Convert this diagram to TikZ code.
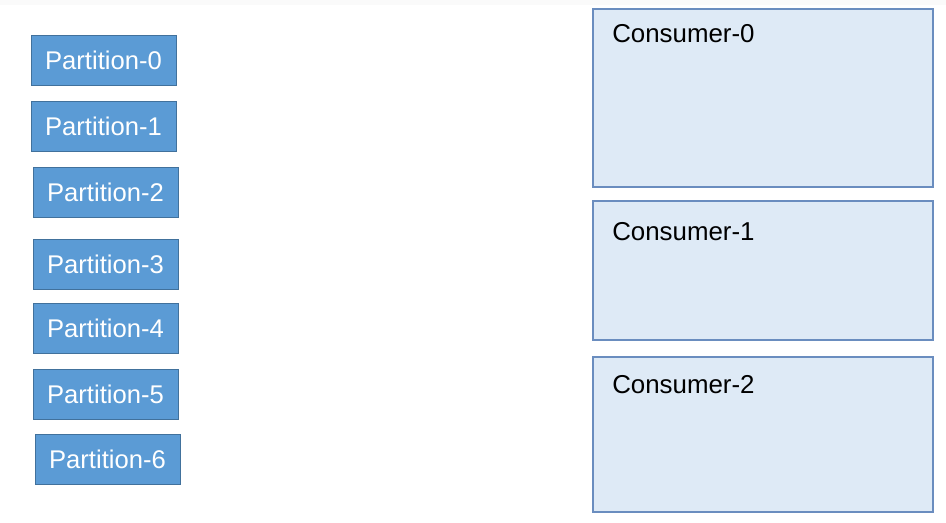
\documentclass[tikz,border=0pt]{standalone}
\usepackage{fontspec}
\setmainfont{Liberation Sans}
\definecolor{partfill}{HTML}{5B9BD5}
\definecolor{partdraw}{HTML}{41719C}
\definecolor{consfill}{HTML}{DEEAF6}
\definecolor{consdraw}{HTML}{6A8DBF}
\begin{document}
\begin{tikzpicture}[x=0.75pt,y=-0.75pt,
  partbox/.style={draw=partdraw, fill=partfill, line width=0.75pt, minimum width=108.75pt, minimum height=37.5pt, inner sep=0pt, text=white, font=\fontsize{19.2}{22}\selectfont},
  consbox/.style={draw=consdraw, fill=consfill, line width=0.9pt, inner sep=0pt},
  constext/.style={anchor=north west, inner sep=0pt, text=black, font=\fontsize{19.4}{22}\selectfont}]
\useasboundingbox (0,0) rectangle (946,522);
\fill[black!2] (0,0) rectangle (946,5);
% partitions
\node[partbox] (p0) at (103.5,60) {Partition-0};
\node[partbox] (p1) at (103.5,126) {Partition-1};
\node[partbox] (p2) at (105.5,192) {Partition-2};
\node[partbox] (p3) at (105.5,264) {Partition-3};
\node[partbox] (p4) at (105.5,328) {Partition-4};
\node[partbox] (p5) at (105.5,394) {Partition-5};
\node[partbox] (p6) at (107.5,459) {Partition-6};
% consumers
\draw[consbox] (593,9) rectangle (933,187);
\coordinate (c0) at (593,9);
\draw[consbox] (593,201) rectangle (933,340);
\coordinate (c1) at (593,201);
\draw[consbox] (593,357) rectangle (933,512);
\coordinate (c2) at (593,357);
\node[constext] (c0t) at (612,24.5) {Consumer-0};
\node[constext] (c1t) at (612,222.5) {Consumer-1};
\node[constext] (c2t) at (612,375.5) {Consumer-2};
\end{tikzpicture}
\end{document}
